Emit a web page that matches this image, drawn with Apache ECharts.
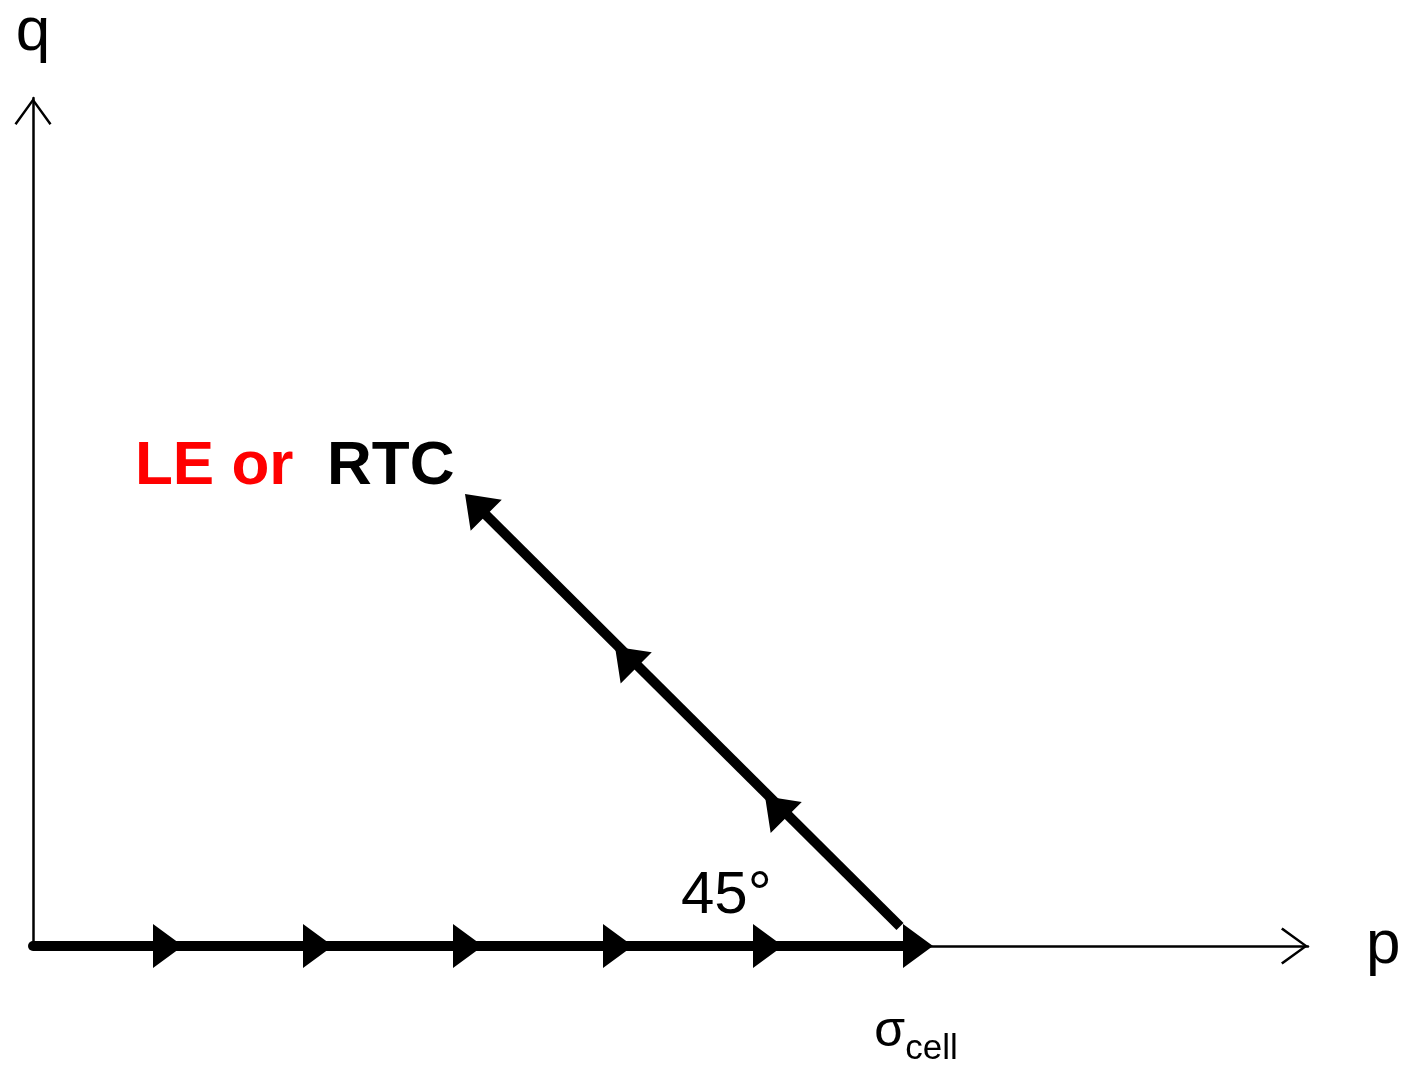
<!DOCTYPE html>
<html>
<head>
<meta charset="utf-8">
<script src="https://cdn.jsdelivr.net/npm/echarts@6/dist/echarts.min.js"></script>
<style>
  html, body { margin: 0; padding: 0; background: #fff; }
  #chart { width: 1406px; height: 1067px; }
</style>
</head>
<body>
<div id="chart"></div>
<script>
// Stress path in p–q space: isotropic loading along the p axis up to σ_cell,
// then a 45° path back towards lower p and higher q.
const loadingPath = [[0, 0], [5.9, 0]];
const loadingArrowP = [1, 2, 3, 4, 5, 6];
const shearPath = [[5.78, 0.13], [2.97, 2.93]];
const shearArrows = [[4.88, 1.0], [3.88, 2.0], [2.88, 3.02]];
const cellPressureP = 6;

const FONT = '"Liberation Sans", Arial, sans-serif';

// open chevron used at the end of both axes (points up before rotation)
const chevron = 'path://M18.5 0 L37 25.4 L35 27 L18.5 4 L2 27 L0 25.4 Z';
// filled triangle pointing right; the invisible tail segment keeps the tip at the symbol centre
const headTip = 'path://M0 0 L30 22 L0 44 Z M60 22 L60 22.01';

const chart = echarts.init(document.getElementById('chart'), null, { renderer: 'canvas' });

chart.setOption({
  animation: false,
  backgroundColor: '#ffffff',
  grid: { left: 33, right: 98, top: 98, bottom: 119, containLabel: false },
  xAxis: {
    type: 'value',
    min: 0,
    max: 8.5,
    interval: 1,
    name: 'p',
    nameLocation: 'end',
    nameGap: 58,
    nameTextStyle: { fontFamily: FONT, fontSize: 62, color: '#000', align: 'left', verticalAlign: 'middle' },
    axisLine: {
      show: true,
      lineStyle: { color: '#000', width: 2.5 },
      symbol: ['none', chevron],
      symbolSize: [37, 27],
      symbolOffset: [0, -13.5]
    },
    axisTick: { show: false },
    splitLine: { show: false },
    axisLabel: {
      show: true,
      margin: 71,
      padding: [0, 34, 0, 0],
      formatter: v => (v === cellPressureP ? '{s|σ}{c|cell}' : ''),
      rich: {
        s: { fontFamily: FONT, fontSize: 50, color: '#000', lineHeight: 50, verticalAlign: 'bottom', padding: [0, 0, 10, 0] },
        c: { fontFamily: FONT, fontSize: 35, color: '#000', lineHeight: 35, verticalAlign: 'bottom' }
      }
    }
  },
  yAxis: {
    type: 'value',
    min: 0,
    max: 17 / 3,
    name: 'q',
    nameLocation: 'end',
    nameGap: 34,
    nameTextStyle: { fontFamily: FONT, fontSize: 62, color: '#000' },
    axisLine: {
      show: true,
      lineStyle: { color: '#000', width: 2.5 },
      symbol: ['none', chevron],
      symbolSize: [37, 27],
      symbolOffset: [0, -13.5]
    },
    axisTick: { show: false },
    splitLine: { show: false },
    axisLabel: { show: false }
  },
  series: [
    {
      type: 'line',
      data: loadingPath,
      symbol: 'none',
      clip: false,
      lineStyle: { color: '#000', width: 10, cap: 'round' },
      z: 3
    },
    {
      type: 'line',
      data: shearPath,
      symbol: 'none',
      clip: false,
      lineStyle: { color: '#000', width: 10, cap: 'butt' },
      z: 3
    },
    {
      type: 'scatter',
      data: loadingArrowP.map(p => [p, 0]),
      symbol: headTip,
      symbolSize: [60, 44],
      symbolRotate: 0,
      clip: false,
      itemStyle: { color: '#000', opacity: 1 },
      z: 4
    },
    {
      type: 'scatter',
      data: shearArrows,
      symbol: headTip,
      symbolSize: [60, 44],
      symbolRotate: 135,
      clip: false,
      itemStyle: { color: '#000', opacity: 1 },
      z: 4
    },
    {
      // text annotations anchored in p–q coordinates
      type: 'scatter',
      symbolSize: 0,
      silent: true,
      clip: false,
      z: 5,
      itemStyle: { opacity: 1 },
      data: [
        { value: [0.68, 3.2], label: { formatter: 'LE or', color: '#ff0000', fontWeight: 'bold', fontSize: 62 } },
        { value: [1.96, 3.2], label: { formatter: 'RTC', color: '#000000', fontWeight: 'bold', fontSize: 62 } },
        { value: [4.32, 0.33], label: { formatter: '45°', color: '#000000', fontWeight: 'normal', fontSize: 60 } }
      ],
      label: {
        show: true,
        position: 'inside',
        align: 'left',
        verticalAlign: 'middle',
        fontFamily: FONT,
        opacity: 1
      }
    }
  ]
});
</script>
</body>
</html>
